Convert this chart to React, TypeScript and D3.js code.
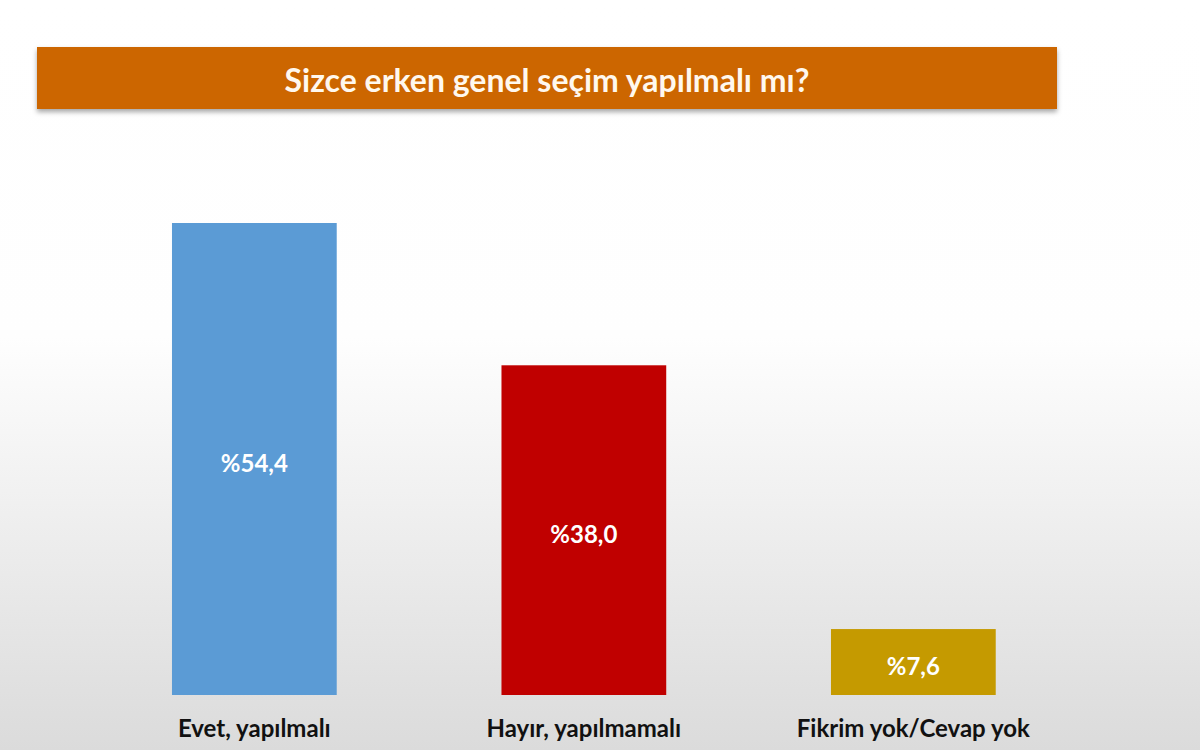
import React, { useEffect, useRef } from 'react'
import * as d3 from 'd3'

const categories = ['Evet, yapılmalı', 'Hayır, yapılmamalı', 'Fikrim yok/Cevap yok']
const values = [54.4, 38.0, 7.6]
const valueLabels = ['%54,4', '%38,0', '%7,6']
const barColors = ['#5b9bd5', '#c00000', '#c59a00']
const title = 'Sizce erken genel seçim yapılmalı mı?'

export default function App() {
  const svgRef = useRef<SVGSVGElement>(null)

  useEffect(() => {
    if (!svgRef.current) return
    const width = 1200
    const height = 750
    const svg = d3.select(svgRef.current)
    svg.selectAll('*').remove()
    svg.attr('width', width).attr('height', height)

    const defs = svg.append('defs')
    const bg = defs.append('linearGradient')
      .attr('id', 'bg').attr('x1', 0).attr('y1', 0).attr('x2', 0).attr('y2', 1)
    bg.append('stop').attr('offset', '0%').attr('stop-color', '#ffffff')
    bg.append('stop').attr('offset', '45%').attr('stop-color', '#fefefe')
    bg.append('stop').attr('offset', '100%').attr('stop-color', '#dbdbdb')

    const shadow = defs.append('filter').attr('id', 'shadow')
      .attr('x', '-5%').attr('y', '-20%').attr('width', '110%').attr('height', '160%')
    shadow.append('feDropShadow')
      .attr('dx', 0).attr('dy', 3).attr('stdDeviation', 2.5)
      .attr('flood-color', '#000').attr('flood-opacity', 0.35)

    svg.append('rect').attr('width', width).attr('height', height).attr('fill', 'url(#bg)')

    // Title banner
    svg.append('rect')
      .attr('x', 37).attr('y', 47).attr('width', 1020).attr('height', 62)
      .attr('fill', '#cc6600')
      .attr('filter', 'url(#shadow)')
    svg.append('text')
      .attr('x', 547).attr('y', 79)
      .attr('text-anchor', 'middle').attr('dominant-baseline', 'central')
      .attr('font-family', 'Lato, "Open Sans", sans-serif')
      .attr('font-weight', 700).attr('font-size', 32)
      .attr('fill', '#fff8ee')
      .text(title)

    const x = d3.scaleBand<string>()
      .domain(categories)
      .range([89.6, 1078.1])
      .paddingInner(0.5)
      .paddingOuter(0.25)

    const y = d3.scaleLinear()
      .domain([0, 54.4])
      .range([695, 223])

    const g = svg.append('g')
    categories.forEach((c, i) => {
      const bx = x(c)!
      const by = y(values[i])
      const bh = y(0) - by
      g.append('rect')
        .attr('x', bx).attr('y', by)
        .attr('width', x.bandwidth()).attr('height', bh)
        .attr('fill', barColors[i])
      g.append('text')
        .attr('x', bx + x.bandwidth() / 2).attr('y', by + bh / 2 + 3)
        .attr('text-anchor', 'middle').attr('dominant-baseline', 'central')
        .attr('font-family', 'Lato, "Open Sans", sans-serif')
        .attr('font-weight', 700).attr('font-size', 24)
        .attr('fill', '#ffffff')
        .text(valueLabels[i])
      g.append('text')
        .attr('x', bx + x.bandwidth() / 2).attr('y', 727)
        .attr('text-anchor', 'middle').attr('dominant-baseline', 'central')
        .attr('font-family', 'Lato, "Open Sans", sans-serif')
        .attr('font-weight', 700).attr('font-size', 24)
        .attr('fill', '#111111')
        .text(c)
    })
  }, [])

  return (
    <svg ref={svgRef} style={{ position: 'absolute', left: 0, top: 0, display: 'block' }} />
  )
}
